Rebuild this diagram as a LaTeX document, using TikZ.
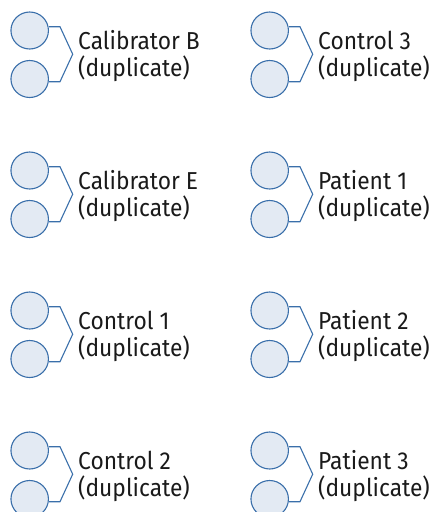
\documentclass[tikz,border=0pt]{standalone}
\usepackage{fontspec}
\setmainfont{Fira Sans}[FakeStretch=0.93]
\usetikzlibrary{shapes.geometric}
\definecolor{ringblue}{HTML}{3A6FAA}
\definecolor{ringfill}{HTML}{E3EAF3}
\definecolor{txt}{HTML}{1A1A1A}
\begin{document}
\begin{tikzpicture}[x=1pt,y=-1pt,
  well/.style={ellipse, draw=ringblue, fill=ringfill, line width=1.1pt,
    minimum width=37.5pt, minimum height=37pt, inner sep=0pt},
  bracket/.style={draw=ringblue, line width=1.1pt, line join=miter},
  lbl/.style={anchor=base west, align=left, inner sep=0pt, text=txt,
    font=\fontsize{24.5}{27}\selectfont}]
\useasboundingbox (0,0) rectangle (437,512);
\foreach \n/\X/\Y/\t in {
  1/0/0/{Calibrator B},
  2/240/0/{Control 3},
  3/0/140/{Calibrator E},
  4/240/140/{Patient 1},
  5/0/280/{Control 1},
  6/240/280/{Patient 2},
  7/0/420/{Control 2},
  8/240/420/{Patient 3}}{
  \begin{scope}[shift={(\X,\Y)}]
    \node[well] (t\n) at (29.7,30.5) {};
    \node[well] (b\n) at (29.7,79) {};
    \coordinate (p\n) at (60,26.7);
    \coordinate (k\n) at (72.7,54.2);
    \coordinate (q\n) at (60,81.7);
    \draw[bracket] (t\n.east |- p\n) -- (p\n) -- (k\n) -- (q\n) -- (b\n.east |- q\n);
    \node[lbl] (l\n) at (78,76.3) {\t\\(duplicate)};
  \end{scope}
}
\end{tikzpicture}
\end{document}
